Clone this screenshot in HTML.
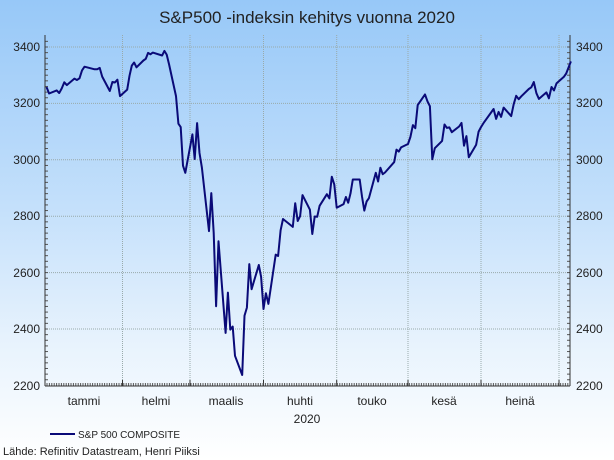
<!DOCTYPE html>
<html style="height:460px;background:linear-gradient(#97c8f8 0%,#c4e0fb 45%,#e8f3fd 75%,#fff 100%) no-repeat;background-size:614px 460px"><head><meta charset="utf-8"><style>
html,body{margin:0;padding:0}
body{width:614px;height:460px;overflow:hidden;background:transparent;font-family:"Liberation Sans",sans-serif}
svg{display:block}
</style></head><body>
<svg id="s" width="614" height="460" xmlns="http://www.w3.org/2000/svg" font-family="Liberation Sans, sans-serif">
<text x="307" y="23" font-size="17" text-anchor="middle" fill="#222">S&amp;P500 -indeksin kehitys vuonna 2020</text>
<g id="grid"></g>
<line x1="45" y1="35" x2="45" y2="386" stroke="#333"/>
<line x1="570" y1="35" x2="570" y2="386" stroke="#333"/>
<line x1="45" y1="386" x2="570" y2="386" stroke="#333"/>
<g font-size="12" fill="#222">
<text x="40" y="51" text-anchor="end">3400</text><text x="40" y="107" text-anchor="end">3200</text>
<text x="40" y="164" text-anchor="end">3000</text><text x="40" y="220" text-anchor="end">2800</text>
<text x="40" y="277" text-anchor="end">2600</text><text x="40" y="333" text-anchor="end">2400</text>
<text x="40" y="390" text-anchor="end">2200</text>
<text x="576" y="51">3400</text><text x="576" y="107">3200</text><text x="576" y="164">3000</text>
<text x="576" y="220">2800</text><text x="576" y="277">2600</text><text x="576" y="333">2400</text><text x="576" y="390">2200</text>
<text x="84" y="405" text-anchor="middle">tammi</text><text x="156" y="405" text-anchor="middle">helmi</text>
<text x="226" y="405" text-anchor="middle">maalis</text><text x="300" y="405" text-anchor="middle">huhti</text>
<text x="372" y="405" text-anchor="middle">touko</text><text x="444" y="405" text-anchor="middle">kesä</text>
<text x="520" y="405" text-anchor="middle">heinä</text><text x="307" y="423" text-anchor="middle">2020</text>
</g>
<line x1="50" y1="434" x2="75" y2="434" stroke="#0a0a78" stroke-width="2"/>
<text x="78" y="438" font-size="10" fill="#222">S&amp;P 500 COMPOSITE</text>
<text x="3" y="455" font-size="11" fill="#222">Lähde: Refinitiv Datastream, Henri Piiksi</text>
<polyline id="ln" fill="none" stroke="#0a0a78" stroke-width="2" stroke-linejoin="round"/>
</svg>
<script>
var NS="http://www.w3.org/2000/svg",g=document.getElementById("grid");
function L(x1,y1,x2,y2,st,dash){var l=document.createElementNS(NS,"line");l.setAttribute("x1",x1);l.setAttribute("y1",y1);l.setAttribute("x2",x2);l.setAttribute("y2",y2);l.setAttribute("stroke",st);if(dash)l.setAttribute("stroke-dasharray",dash);g.appendChild(l);}
function Y(v){return 47+(3400-v)*56.4/200;}
[3400,3200,3000,2800,2600,2400].forEach(function(v){L(45,Y(v),570,Y(v),"#9aa",'1,1');});
var mx=[122.5,190,263.5,336.7,408,481,559];
mx.forEach(function(x){L(x,35,x,386,"#9aa",'1,1');L(x,386,x,380,"#333");});
for(var v=2220;v<3440;v+=20){L(45,Y(v),48,Y(v),"#555");L(567,Y(v),570,Y(v),"#555");}
for(var x=47;x<570;x+=2.4){L(x,386,x,383,"#555");}
var anchors=[[0,44],[31,122.5],[60,190],[91,263.5],[121,336.7],[152,408],[182,481],[213,559],[244,633]];
function X(d){for(var i=0;i<anchors.length-1;i++){var a=anchors[i],b=anchors[i+1];if(d<=b[0])return a[1]+(d-a[0])*(b[1]-a[1])/(b[0]-a[0]);}}
var D={0:[[2,3258],[3,3235],[6,3246],[7,3237],[8,3253],[9,3275],[10,3265],[13,3288],[14,3283],[15,3289],[16,3317],[17,3330],[21,3321],[22,3321],[23,3326],[24,3295],[27,3244],[28,3276],[29,3274],[30,3284],[31,3226]],
31:[[3,3249],[4,3298],[5,3334],[6,3345],[7,3328],[10,3352],[11,3358],[12,3379],[13,3374],[14,3380],[18,3370],[19,3386],[20,3373],[21,3338],[24,3226],[25,3128],[26,3116],[27,2979],[28,2954]],
60:[[2,3090],[3,3003],[4,3130],[5,3024],[6,2972],[9,2747],[10,2882],[11,2741],[12,2481],[13,2711],[16,2386],[17,2529],[18,2398],[19,2409],[20,2305],[23,2237],[24,2447],[25,2476],[26,2630],[27,2541],[30,2627],[31,2585]],
91:[[1,2471],[2,2527],[3,2489],[6,2664],[7,2659],[8,2750],[9,2790],[13,2762],[14,2846],[15,2783],[16,2800],[17,2875],[20,2823],[21,2737],[22,2799],[23,2798],[24,2837],[27,2878],[28,2863],[29,2940],[30,2912]],
121:[[1,2830],[4,2843],[5,2868],[6,2848],[7,2881],[8,2930],[11,2930],[12,2870],[13,2820],[14,2852],[15,2864],[18,2954],[19,2923],[20,2972],[21,2949],[22,2955],[26,2992],[27,3036],[28,3029],[29,3044]],
152:[[1,3056],[2,3081],[3,3123],[4,3112],[5,3194],[8,3232],[9,3207],[10,3190],[11,3002],[12,3041],[15,3067],[16,3125],[17,3113],[18,3115],[19,3098],[22,3118],[23,3131],[24,3050],[25,3084],[26,3009],[29,3053],[30,3100]],
182:[[1,3116],[2,3130],[6,3180],[7,3145],[8,3170],[9,3152],[10,3185],[13,3155],[14,3197],[15,3227],[16,3215],[17,3225],[20,3251],[21,3257],[22,3276],[23,3236],[24,3216],[27,3239],[28,3218],[29,3258],[30,3246],[31,3271]],
213:[[3,3294],[4,3306],[5,3327],[6,3349]]};
var pts=[];[0,31,60,91,121,152,182,213].forEach(function(o){D[o].forEach(function(p){pts.push(X(o+p[0]-1).toFixed(1)+","+Y(p[1]).toFixed(1));});});
document.getElementById("ln").setAttribute("points",pts.join(" "));
</script>
</body></html>
